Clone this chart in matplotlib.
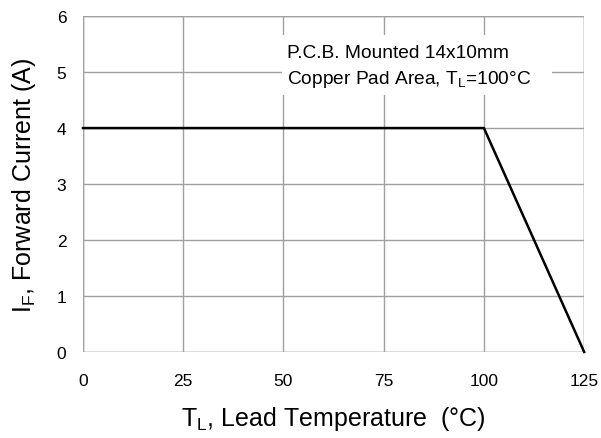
import matplotlib
matplotlib.use("Agg")
import matplotlib.pyplot as plt
from matplotlib.patches import Rectangle

plt.rcParams['font.family'] = ['Liberation Sans', 'DejaVu Sans']

# derating curve
temp = [0, 100, 125]
current = [4, 4, 0]

xticks = [0, 25, 50, 75, 100, 125]
yticks = [0, 1, 2, 3, 4, 5, 6]

fig = plt.figure(figsize=(6.01, 4.39), dpi=100)
ax = fig.add_axes([0.138, 0.196, 0.834, 0.765])

ax.plot(temp, current, color='black', lw=1.8, zorder=3, clip_on=False)

ax.set_xlim(0, 125)
ax.set_ylim(0, 6)
ax.set_xticks(xticks)
ax.set_yticks(yticks)
ax.set_axisbelow(True)
ax.grid(True, color='#a0a0a0', lw=1.0)
for s in ax.spines.values():
    s.set_visible(False)
# outer frame drawn as grid-coloured lines
ax.axvline(0, color='#a0a0a0', lw=1.0, zorder=0.6)
ax.axvline(125, color='#a0a0a0', lw=1.0, zorder=0.6)
ax.axhline(0, color='#a0a0a0', lw=1.0, zorder=0.6)
ax.axhline(6, color='#a0a0a0', lw=1.0, zorder=0.6)

ax.tick_params(length=0, labelsize=12.5)
ax.tick_params(axis='y', pad=12)
ax.tick_params(axis='x', pad=15)

ax.set_xlabel('T$_\\mathregular{L}$, Lead Temperature  (°C)', fontsize=18, labelpad=12)
ax.set_ylabel('I$_\\mathregular{F}$, Forward Current (A)', fontsize=18, labelpad=13)

# white box behind the note
ax.add_patch(Rectangle((49.6, 4.59), 67.4, 1.07, facecolor='white', edgecolor='none', zorder=1))
ax.text(50.9, 5.5, 'P.C.B. Mounted 14x10mm\nCopper Pad Area, T$_\\mathregular{L}$=100°C',
        fontsize=13.8, va='top', ha='left', linespacing=1.45, zorder=2)

fig.savefig('out.png', dpi=100)
